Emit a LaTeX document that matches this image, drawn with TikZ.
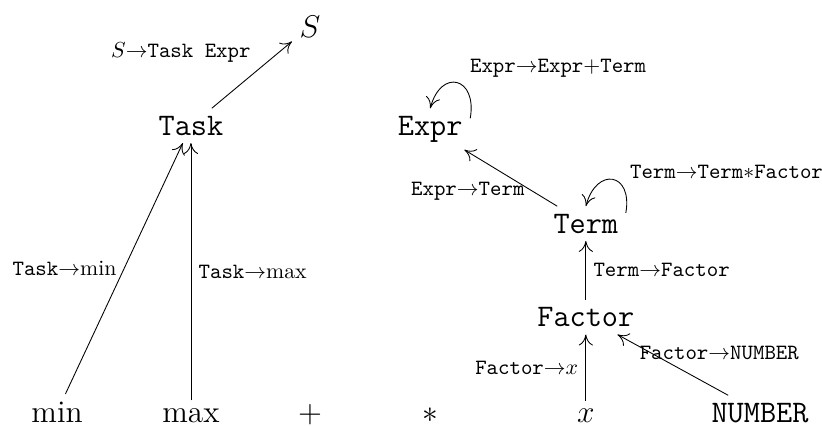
\documentclass[tikz,border=0pt]{standalone}
\usepackage{tikz}
\usetikzlibrary{arrows.meta}
\newcommand{\nt}[1]{\texttt{#1}}
\newcommand{\yields}{\ensuremath{\rightarrow}}

\begin{document}
\begin{tikzpicture}[>={To[length=5pt, width=6.5pt]},
    sym/.style={font=\Large, anchor=base},
    nonterm/.style={font=\Large\ttfamily, anchor=base},
    loopy/.style={->, out=80, in=75, looseness=2.6}]
  \useasboundingbox (0,0) rectangle (13.26,6.87);
  % tokens along the bottom
  \node[sym] (min) at (0.92,0.06) {min};
  \node[sym] (max) at (3.08,0.06) {max};
  \node[sym] (plus) at (5.0,0.06) {$+$};
  \node[sym] (star) at (6.94,0.06) {$*$};
  \node[sym] (x) at (9.45,0.06) {$x$};
  \node[nonterm] (number) at (12.26,0.06) {NUMBER};
  % nonterminals
  \node[nonterm] (factor) at (9.45,1.60) {Factor};
  \node[nonterm] (term) at (9.45,3.11) {Term};
  \node[nonterm] (task) at (3.08,4.69) {Task};
  \node[nonterm] (expr) at (6.94,4.69) {Expr};
  \node[sym] (s) at (5.0,6.27) {$S$};
  % reductions
  \draw[->] (min) -- node[left] {\nt{Task}\yields min} (task);
  \draw[->] (max) -- node[right] {\nt{Task}\yields max} (task);
  \draw[->] (task) -- node[pos=0.58, above left] {$S$\yields\nt{Task Expr}} (s);
  \draw[->] (x) -- node[left] {\nt{Factor}\yields$x$} (factor);
  \draw[->] (number) -- node[pos=0.7, right=-0.3cm] {\nt{Factor}\yields\nt{NUMBER}} (factor);
  \draw[->] (factor) -- node[right] {\nt{Term}\yields\nt{Factor}} (term);
  \draw[->] (term) -- node[pos=0.27, left] {\nt{Expr}\yields\nt{Term}} (expr);
  \draw[loopy] (expr.15) to node[pos=0.4, above right] {\nt{Expr}\yields\nt{Expr}$+$\nt{Term}} (expr.north);
  \draw[loopy] (term.15) to node[pos=0.3, above right] {\nt{Term}\yields\nt{Term}$*$\nt{Factor}} (term.north);
\end{tikzpicture}
\end{document}
